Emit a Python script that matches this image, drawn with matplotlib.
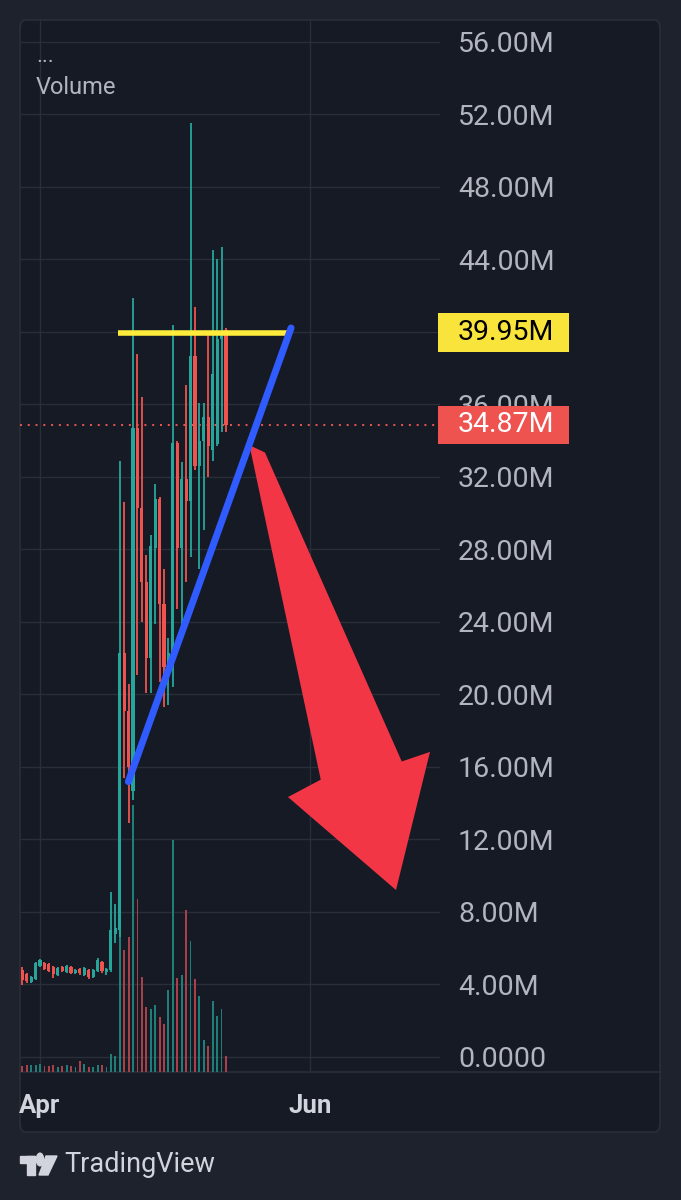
import matplotlib
matplotlib.use('Agg')
import matplotlib.pyplot as plt
import matplotlib.dates as mdates
from matplotlib.patches import Rectangle, Polygon, FancyBboxPatch, Circle
from matplotlib.lines import Line2D
import numpy as np
import pandas as pd

plt.rcParams['font.family'] = ['Roboto', 'DejaVu Sans']

# daily candles (values in millions)
dates = pd.date_range('2024-03-28', periods=47, freq='D')
opens = [4.80, 4.58, 4.14, 4.30, 5.02, 5.19, 5.13, 4.97, 4.52, 4.97, 4.69, 4.97, 4.63, 4.86, 4.52, 4.80,
         4.41, 4.74, 5.24, 4.69, 4.80, 6.79, 7.0, 22.3, 19.1, 14.7, 34.7, 30.3, 26.2, 22.0, 28.1, 30.8,
         25.0, 21.4, 22.3, 33.9, 28.1, 31.9, 30.7, 38.7, 32.6, 34.0, 35.3, 33.5, 33.8, 39.6, 40.1]
closes = [4.25, 4.19, 4.41, 5.19, 5.35, 4.86, 4.74, 4.58, 4.91, 4.74, 5.02, 4.63, 4.80, 4.63, 4.91, 4.41,
          4.80, 5.35, 4.74, 4.86, 7.01, 7.12, 22.3, 19.1, 16.0, 34.7, 30.3, 26.2, 22.0, 28.2, 30.8, 25.0,
          21.5, 22.3, 33.9, 28.1, 31.9, 30.7, 38.7, 32.6, 34.0, 35.3, 33.7, 37.7, 39.6, 39.9, 34.87]
highs = [4.97, 4.63, 4.47, 5.24, 5.41, 5.24, 5.19, 5.02, 4.97, 5.02, 5.08, 5.02, 4.86, 4.91, 4.97, 4.86,
         4.86, 5.46, 5.30, 4.91, 9.10, 8.44, 32.9, 30.6, 20.6, 41.9, 38.8, 36.4, 27.7, 28.8, 31.6, 30.9,
         26.9, 23.1, 40.4, 34.0, 32.8, 37.1, 51.5, 41.4, 36.1, 36.1, 40.0, 44.5, 44.0, 44.7, 40.2]
lows = [3.97, 4.08, 4.08, 4.25, 4.97, 4.80, 4.69, 4.36, 4.47, 4.69, 4.63, 4.58, 4.58, 4.52, 4.47, 4.30,
        4.36, 4.69, 4.63, 4.52, 4.69, 6.29, 6.6, 15.4, 12.9, 14.2, 21.1, 24.0, 20.1, 20.1, 23.9, 20.7,
        19.3, 19.4, 20.4, 24.7, 23.6, 26.2, 27.6, 32.4, 26.9, 29.1, 32.0, 32.9, 33.7, 34.5, 34.5]
volumes = [3, 3.5, 3.5, 3.5, 4, 3, 3, 3.5, 2.5, 3, 3.5, 3, 2.5, 5.5, 4, 2.5, 2.5, 3.5, 3.5, 2.5,
           9, 8, 96, 61, 67.5, 133.5, 86.5, 47.5, 32.5, 31.5, 33.5, 27.5, 24, 41, 116, 47, 48.5, 81,
           65.5, 46.5, 38, 16, 13, 35.5, 28, 31.5, 8]

price_ticks = list(range(0, 57, 4))
last_price = 34.87
level_price = 39.95
month_ticks = ['2024-04-01', '2024-06-01']
month_labels = ['Apr', 'Jun']

# user drawings: (days after first candle, price)
trend_line = [(23.94, 15.19), (60.7, 40.22)]
level_line = [(21.6, 39.95), (60.9, 39.95)]
arrow_shape = [(51.3, 33.75), (54.8, 33.35), (85.7, 16.3), (92.07, 16.83),
               (84.39, 9.21), (60.0, 14.34), (67.4, 15.3)]

BG = '#1e222d'
PANEL = '#161a25'
GRID = '#2a2e39'
UP = '#26a69a'
DOWN = '#ef5350'
TXT = '#b2b5be'

W, H = 681, 1200
fig = plt.figure(figsize=(W / 100, H / 100), dpi=100, facecolor=BG)


def fx(x):
    return x / W


def fy(y):
    return 1 - y / H


panel = FancyBboxPatch((fx(20), fy(1132)), fx(640), 1112 / H, boxstyle='round,pad=0,rounding_size=0.008',
                       transform=fig.transFigure, fc=PANEL, ec=GRID, lw=1.2, zorder=-10)
fig.patches.append(panel)
fig.add_artist(Line2D([fx(20), fx(660)], [fy(1072), fy(1072)], color=GRID, lw=1.2,
                      transform=fig.transFigure, zorder=-5))

ax = fig.add_axes([fx(20), fy(1072), 420 / W, 1052 / H])
ax2 = ax.twinx()
ax.set_zorder(ax2.get_zorder() + 1)
ax.patch.set_visible(False)
ax2.patch.set_visible(False)

x = mdates.date2num(dates)
d0 = x[0]
o = np.array(opens)
c = np.array(closes)
colors = [UP if cc >= oo else DOWN for oo, cc in zip(o, c)]
vcolors = ['#1f7f78' if cc >= oo else '#a8404a' for oo, cc in zip(o, c)]

# volume in the lower pane overlay
ax2.bar(x, volumes, width=0.42, color=vcolors, zorder=3)
ax2.set_ylim(0, 526)
ax2.set_yticks([])
for t in price_ticks:
    ax2.plot([0, 1], [t, t], transform=ax.get_yaxis_transform(), color=GRID, lw=1, zorder=1)
for m in month_ticks:
    ax2.axvline(mdates.date2num(pd.Timestamp(m)), color=GRID, lw=1, zorder=1)

# candles
ax.vlines(x, lows, highs, colors=colors, lw=1.3, zorder=3)
body = np.maximum(np.abs(c - o), 0.12)
ax.bar(x, body, bottom=np.minimum(o, c), width=0.7, color=colors, zorder=4)

# drawings
ax.plot([d0 + p[0] for p in level_line], [p[1] for p in level_line], color='#ffeb3b', lw=4,
        solid_capstyle='butt', zorder=5)
ax.axhline(last_price, color=DOWN, lw=1.4, ls=(0, (1, 3)), zorder=2)
ax.add_patch(Polygon([(d0 + p[0], p[1]) for p in arrow_shape], closed=True, fc='#f23645', ec='none',
                     zorder=6))
ax.plot([d0 + p[0] for p in trend_line], [p[1] for p in trend_line], color='#2f5bff', lw=5,
        solid_capstyle='round', zorder=7)

ax.set_xlim(d0 - 0.52, d0 + 94.33)
ax.set_ylim(-0.83, 57.21)
ax2.set_xlim(d0 - 0.52, d0 + 94.33)

ax.yaxis.tick_right()
ax.set_yticks(price_ticks)
ax.set_yticklabels(['0.0000' if t == 0 else f'{t:.2f}M' for t in price_ticks])
ax.tick_params(axis='y', length=0, pad=13, labelsize=20.5, labelcolor=TXT)
ax.set_xticks([mdates.date2num(pd.Timestamp(m)) for m in month_ticks])
ax.set_xticklabels(month_labels, fontweight='bold')
ax.tick_params(axis='x', length=0, pad=16, labelsize=18.5, labelcolor='#d1d4dc')
ax2.tick_params(length=0)
for a in (ax, ax2):
    for s in a.spines.values():
        s.set_visible(False)

# price labels on the scale
yt = ax.get_yaxis_transform()
for price, fc, tc in [(level_price, '#f9e43b', '#000000'), (last_price, '#ef5350', '#ffffff')]:
    ax.add_patch(Rectangle(((438 - 20) / 420, price - 1.07), 131 / 420, 2.14, transform=yt,
                           fc=fc, ec='none', clip_on=False, zorder=10))
    ax.text((458 - 20) / 420, price, f'{price:.2f}M', transform=yt, color=tc, fontsize=20.5,
            va='center', ha='left', clip_on=False, zorder=11)

fig.text(fx(36), fy(57), '...', color=TXT, fontsize=16, va='center', ha='left')
fig.text(fx(36), fy(87), 'Volume', color=TXT, fontsize=17, va='center', ha='left')

# TradingView footer
logo_c = '#d1d4dc'
for r in [Rectangle((fx(20), fy(1163)), fx(15), 7 / H), Rectangle((fx(27), fy(1175)), fx(8), 19 / H)]:
    r.set_transform(fig.transFigure)
    r.set_color(logo_c)
    fig.patches.append(r)
dot = Circle((fx(40), fy(1159.5)), fx(3.6), transform=fig.transFigure, color=logo_c)
fig.patches.append(dot)
slash = Polygon([(fx(46), fy(1156)), (fx(57), fy(1156)), (fx(48), fy(1175)), (fx(39), fy(1175))],
                closed=True, transform=fig.transFigure, color=logo_c)
fig.patches.append(slash)
fig.text(fx(64), fy(1165), 'TradingView', color=logo_c, fontsize=19.5, va='center', ha='left')

fig.savefig('out.png', dpi=100, facecolor=BG)
